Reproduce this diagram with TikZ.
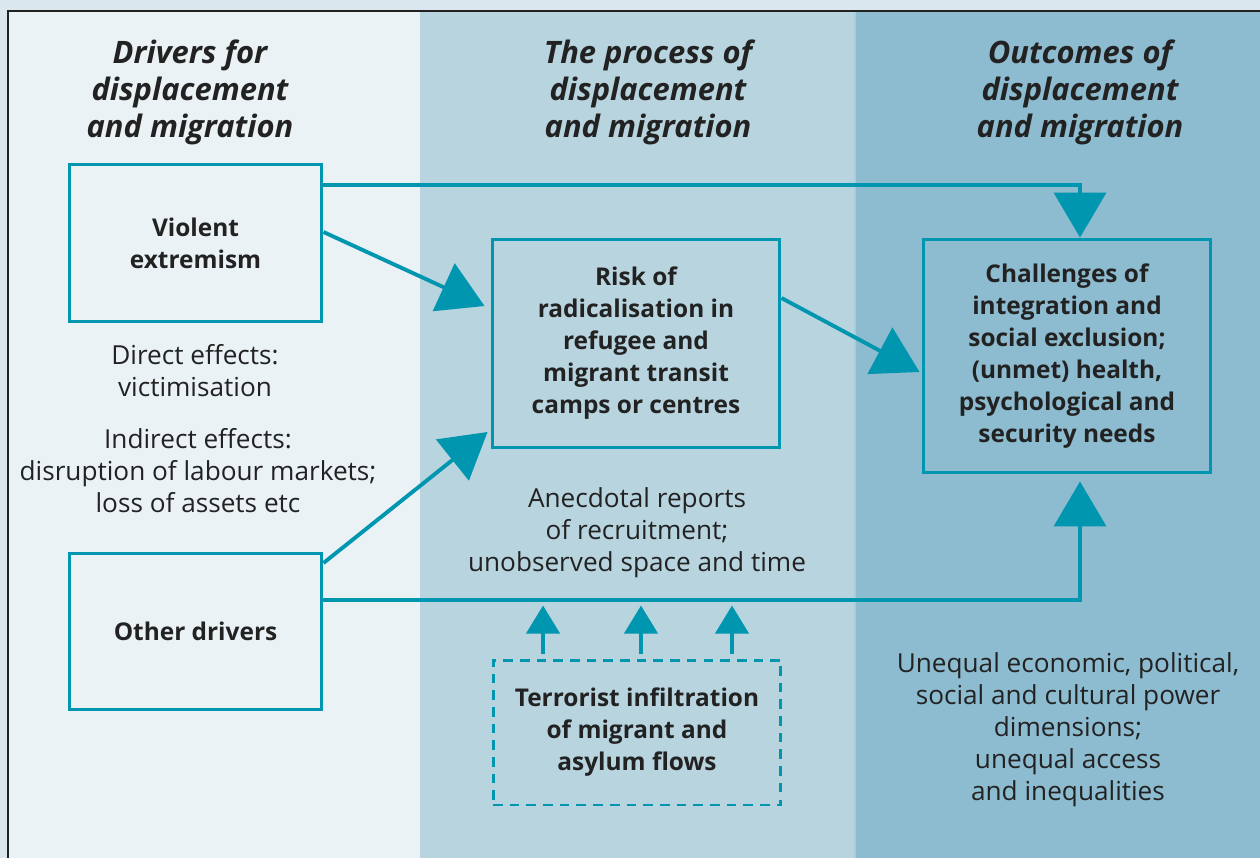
\documentclass[tikz,border=0pt]{standalone}
\usepackage{fontspec}
\setmainfont{Open Sans}
\usetikzlibrary{arrows.meta,positioning}

\definecolor{pageblue}{HTML}{DAE7EF}
\definecolor{colone}{HTML}{EAF2F6}
\definecolor{coltwo}{HTML}{B8D4DF}
\definecolor{colthree}{HTML}{8DBBCF}
\definecolor{tealc}{HTML}{0096AF}
\definecolor{ink}{HTML}{222222}

\newcommand{\bodyfont}{\fontsize{14.9}{18.2}\selectfont}
\newcommand{\boxfont}{\fontsize{13.9}{18.2}\selectfont\bfseries}
\newcommand{\titlefont}{\fontsize{17.6}{21}\selectfont\bfseries\itshape}

\begin{document}
\begin{tikzpicture}[x=0.02cm,y=-0.02cm,align=center,font=\bodyfont,text=ink,
    box/.style={rectangle,draw=tealc,line width=1.7pt,font=\boxfont},
    dashbox/.style={box,dash pattern=on 5.5pt off 4pt},
    link/.style={draw=tealc,line width=2.2pt},
    bigarr/.style={link,-{Triangle[length=0.9cm,width=1.04cm]}},
    smallarr/.style={link,line width=2.4pt,-{Triangle[length=0.56cm,width=0.66cm]}}]
      \useasboundingbox (0,0) rectangle (1260,858);

      %background columns
      \fill[pageblue] (0,0) rectangle (1260,858);
      \fill[colone] (8,11) rectangle (420,858);
      \fill[coltwo] (420,11) rectangle (855,858);
      \fill[colthree] (855,11) rectangle (1260,858);
      \draw[coltwo!70!colthree,line width=0.6pt] (855,11) -- (855,858);
      \draw[ink,line width=1.2pt] (8,858) -- (8,11) -- (1260,11);

      %titles
      \node[font=\titlefont] (ttlone) at (190,92) {Drivers for\\displacement\\and migration};
      \node[font=\titlefont] (ttltwo) at (648,92) {The process of\\displacement\\and migration};
      \node[font=\titlefont] (ttlthree) at (1080,92) {Outcomes of\\displacement\\and migration};

      %drivers
      \node[box,minimum width=5.06cm,minimum height=3.16cm] (violent) at (195.5,243) {Violent\\extremism};
      \node[box,minimum width=5.06cm,minimum height=3.14cm] (other) at (195.5,631.5) {Other drivers};
      \node (direct) at (195,371) {Direct effects:\\victimisation};
      \node (indirect) at (198,471) {Indirect effects:\\disruption of labour markets;\\loss of assets etc};

      %process
      \node[box,minimum width=5.76cm,minimum height=4.18cm] (risk) at (636,343.5) {Risk of\\radicalisation in\\refugee and\\migrant transit\\camps or centres};
      \node (anecdote) at (637,533) {Anecdotal reports\\of recruitment;\\unobserved space and time};
      \node[dashbox,minimum width=5.76cm,minimum height=2.9cm] (infil) at (637,732.5) {Terrorist infiltration\\of migrant and\\asylum flows};

      %outcomes
      \node[box,minimum width=5.76cm,minimum height=4.68cm] (challenges) at (1067,356) {Challenges of\\integration and\\social exclusion;\\(unmet) health,\\psychological and\\security needs};
      \node (unequal) at (1068,730) {Unequal economic, political,\\social and cultural power\\dimensions;\\unequal access\\and inequalities};

      %arrows
      \coordinate (topturn) at (1080,185);
      \coordinate (lowturn) at (1080,600);
      \draw[bigarr] (violent.east |- topturn) -- (topturn) -- (topturn |- challenges.north);
      \draw[bigarr,shorten >=0.14cm] (other.east |- lowturn) -- (lowturn) -- (lowturn |- challenges.south);
      \draw[bigarr] ([yshift=0.22cm]violent.east) -- ([xshift=-0.12cm,yshift=0.75cm]risk.west);
      \draw[bigarr] ([yshift=1.37cm]other.east) -- ([xshift=-0.06cm,yshift=-1.77cm]risk.west);
      \draw[bigarr] ([yshift=0.91cm]risk.east) -- ([xshift=-0.04cm,yshift=-0.32cm]challenges.west);
      \foreach \dx in {-1.88,0.08,1.9}
        \draw[smallarr] ([xshift=\dx cm,yshift=0.1cm]infil.north) -- ++(0,-48);

    \end{tikzpicture}
\end{document}
